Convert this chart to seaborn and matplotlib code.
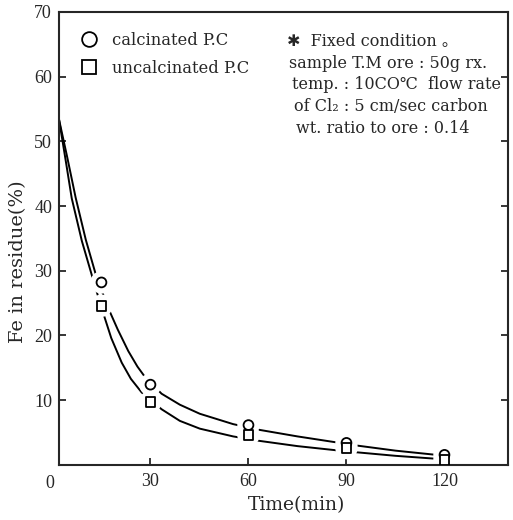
import numpy as np
import pandas as pd
import matplotlib
matplotlib.use("Agg")
import matplotlib.pyplot as plt
import seaborn as sns

# measured points
times = [15, 30, 60, 90, 120]
calcinated = [28.2, 12.4, 6.15, 3.4, 1.55]
uncalcinated = [24.6, 9.75, 4.6, 2.6, 0.8]

# fitted curves as drawn in the figure
curve_t_calc = [2.0, 4.5, 7.1, 10.2, 13.5, 17.1, 20, 23.2, 26, 28.3, 33.4, 39, 45.1, 55.3, 63.5, 75, 87.9, 93, 105, 116.5, 120]
curve_calc = [53.4, 47.6, 41.3, 34.8, 29.0, 24.2, 20.9, 17.6, 15.2, 13.6, 11.0, 9.3, 7.9, 6.3, 5.4, 4.4, 3.4, 3.0, 2.2, 1.6, 1.5]
curve_t_uncalc = [2.0, 4.0, 5.9, 9, 12, 15, 18, 21.2, 24, 27.3, 33.4, 39, 45.1, 55.3, 63.5, 75, 87.9, 93, 105, 116.5, 120]
curve_uncalc = [53.4, 47.2, 41.2, 34.6, 29.4, 24.3, 19.6, 15.8, 13.3, 11.2, 8.6, 6.8, 5.6, 4.4, 3.7, 2.9, 2.2, 1.95, 1.4, 0.98, 0.9]

notes = ["\u2731  Fixed condition \u3002",
         "sample T.M ore : 50g rx.",
         "temp. : 10CO\u2103  flow rate",
         "of Cl\u2082 : 5 cm/sec carbon",
         "wt. ratio to ore : 0.14"]

sns.set_style("ticks")
plt.rcParams['font.family'] = ['DejaVu Serif', 'DejaVu Sans', 'Noto Sans CJK JP']

pts = pd.DataFrame({'t': times * 2,
                    'fe': calcinated + uncalcinated,
                    'kind': ['calcinated P.C'] * 5 + ['uncalcinated P.C'] * 5})

fig = plt.figure(figsize=(5.13, 5.20), dpi=100)
ax = fig.add_axes([0.115, 0.106, 0.875, 0.871])

sns.lineplot(x=curve_t_calc, y=curve_calc, ax=ax, color='black', lw=1.4,
             estimator=None, sort=False, zorder=1)
sns.lineplot(x=curve_t_uncalc, y=curve_uncalc, ax=ax, color='black', lw=1.4,
             estimator=None, sort=False, zorder=1)

# white halos to break the curves around the markers
sns.scatterplot(data=pts, x='t', y='fe', ax=ax, s=260, color='white',
                edgecolor='none', legend=False, zorder=2)
sns.scatterplot(data=pts, x='t', y='fe', style='kind',
                markers={'calcinated P.C': 'o', 'uncalcinated P.C': 's'},
                ax=ax, s=50, facecolor='white', edgecolor='black', linewidth=1.3,
                zorder=3)

ax.set_xlim(2.0, 139.4)
ax.set_ylim(0, 70)
ax.set_xticks([30, 60, 90, 120])
ax.set_yticks([10, 20, 30, 40, 50, 60, 70])
ax.tick_params(direction='in', length=5, width=1.3, right=True, top=False, pad=5)
ax.tick_params(axis='x', pad=6)
for lab in ax.get_xticklabels() + ax.get_yticklabels():
    lab.set_family(['Liberation Serif', 'DejaVu Serif'])
    lab.set_fontsize(13)
# origin label sits at the corner, left of the spine
ax.text(-0.8, -0.022, '0', transform=ax.get_xaxis_transform(), ha='center', va='top',
        fontsize=13, family=['Liberation Serif', 'DejaVu Serif'])
for s in ax.spines.values():
    s.set_linewidth(1.5)
    s.set_visible(True)

ax.set_xlabel('Time(min)', fontsize=13.5)
ax.set_ylabel('Fe in residue(%)', fontsize=14)
ax.xaxis.set_label_coords(0.53, -0.068)
ax.yaxis.set_label_coords(-0.07, 0.448)

leg = ax.legend(loc='upper left', bbox_to_anchor=(0.035, 0.97), borderaxespad=0,
                frameon=False, fontsize=11.8, markerscale=1.5, handletextpad=0.9,
                labelspacing=0.65, handlelength=1.0)

for i, line in enumerate(notes):
    ax.text(0.508 + i * 0.005, 0.925 - i * 0.048, line, transform=ax.transAxes,
            fontsize=11.5, va='baseline', ha='left')

fig.savefig('out.png', dpi=100)
